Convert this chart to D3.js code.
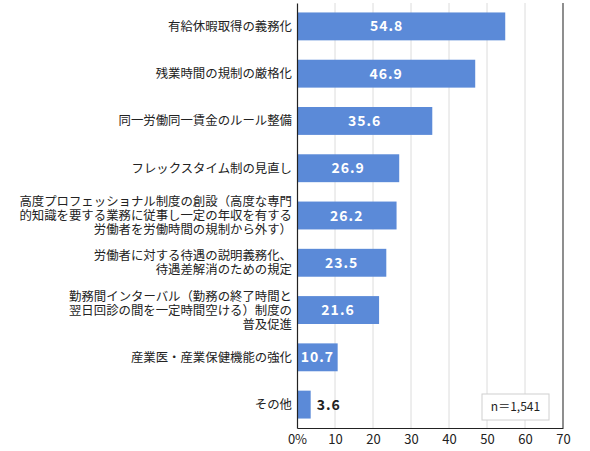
<!DOCTYPE html>
<html>
<head>
<meta charset="utf-8">
<script src="https://cdnjs.cloudflare.com/ajax/libs/d3/7.8.5/d3.min.js"></script>
<style>
  body { margin: 0; background: #fff; }
  svg { display: block; }
</style>
</head>
<body>
<svg width="590" height="451"></svg>
<script>

// data
var categories = [
  ["有給休暇取得の義務化"],
  ["残業時間の規制の厳格化"],
  ["同一労働同一賃金のルール整備"],
  ["フレックスタイム制の見直し"],
  ["高度プロフェッショナル制度の創設（高度な専門", "的知識を要する業務に従事し一定の年収を有する", "労働者を労働時間の規制から外す）"],
  ["労働者に対する待遇の説明義務化、", "待遇差解消のための規定"],
  ["勤務間インターバル（勤務の終了時間と", "翌日回診の間を一定時間空ける）制度の", "普及促進"],
  ["産業医・産業保健機能の強化"],
  ["その他"]
];
var values = [54.8, 46.9, 35.6, 26.9, 26.2, 23.5, 21.6, 10.7, 3.6];
var xTicks = [0, 10, 20, 30, 40, 50, 60, 70];
var note = "n＝1,541";

var svg = d3.select("svg"),
    margin = {top: 3, right: 27, bottom: 23, left: 297},
    width = +svg.attr("width") - margin.left - margin.right,
    height = +svg.attr("height") - margin.top - margin.bottom;

var font = "'Noto Sans CJK JP', 'Noto Sans', sans-serif";

var xScale = d3.scaleLinear().domain([0, 70]).range([0, width]);
var yScale = d3.scaleBand().domain(d3.range(values.length))
    .range([0, height]).paddingInner(0.41).paddingOuter(0.2);

var g = svg.append("g")
    .attr("transform", "translate(" + margin.left + "," + margin.top + ")");

// grid
g.append("g").selectAll("line")
  .data(xTicks.slice(1, -1))
  .enter().append("line")
  .attr("x1", function(d) { return xScale(d); })
  .attr("x2", function(d) { return xScale(d); })
  .attr("y1", 0).attr("y2", height)
  .style("stroke", "#dcdcdc").style("stroke-width", 1);

// right border
g.append("line")
  .attr("x1", xScale(70)).attr("x2", xScale(70))
  .attr("y1", 0).attr("y2", height)
  .style("stroke", "#444").style("stroke-width", 1.2);

// bars
g.append("g").selectAll("rect")
  .data(values)
  .enter().append("rect")
  .attr("x", 0)
  .attr("y", function(d, i) { return yScale(i); })
  .attr("width", function(d) { return xScale(d); })
  .attr("height", yScale.bandwidth())
  .style("fill", "#5b8ad8");

// value labels
g.append("g").selectAll("text")
  .data(values)
  .enter().append("text")
  .attr("x", function(d) {
    if (d < 5) return xScale(d) + 6;
    return xScale(Math.min(d / 2, 23.6));
  })
  .attr("y", function(d, i) { return yScale(i) + yScale.bandwidth() / 2; })
  .attr("dy", "0.36em")
  .attr("text-anchor", function(d) { return d < 5 ? "start" : "middle"; })
  .style("font-family", font)
  .style("font-weight", "bold")
  .style("font-size", "14px")
  .style("letter-spacing", "1px")
  .style("fill", function(d) { return d < 5 ? "#222" : "#fff"; })
  .text(function(d) { return d.toFixed(1); });

// category labels
var lineH = 14;
var cat = g.append("g").selectAll("text")
  .data(categories)
  .enter().append("text")
  .attr("text-anchor", "end")
  .attr("transform", function(d, i) {
    var cy = yScale(i) + yScale.bandwidth() / 2 - (d.length - 1) * lineH / 2;
    return "translate(-5," + cy + ")";
  })
  .style("font-family", font)
  .style("font-size", "12.4px")
  .style("fill", "#222");

cat.selectAll("tspan")
  .data(function(d) { return d; })
  .enter().append("tspan")
  .attr("x", 0)
  .attr("y", function(d, j) { return j * lineH; })
  .attr("dy", "0.36em")
  .text(function(d) { return d; });

// axes
var xAxis = g.append("g")
  .attr("transform", "translate(0," + height + ")")
  .call(d3.axisBottom(xScale).tickValues(xTicks).tickSize(0).tickPadding(7)
    .tickFormat(function(d) { return d === 0 ? "0%" : d; }));
xAxis.select(".domain").style("stroke", "#222").style("stroke-width", 1.2);
xAxis.selectAll("text")
  .style("font-family", font)
  .style("font-size", "13px")
  .style("fill", "#222");

var yAxis = g.append("g")
  .call(d3.axisLeft(yScale).tickSize(0).tickFormat(""));
yAxis.select(".domain").style("stroke", "#222").style("stroke-width", 1.2);

// n box
var box = g.append("g")
  .attr("transform", "translate(" + (xScale(70) - 81) + "," + (height - 34) + ")");
box.append("rect")
  .attr("width", 67).attr("height", 26)
  .style("fill", "#fff").style("stroke", "#d0d0d0");
box.append("text")
  .attr("x", 33.5).attr("y", 13).attr("dy", "0.36em")
  .attr("text-anchor", "middle")
  .style("font-family", font)
  .style("font-size", "12px")
  .style("fill", "#222")
  .text(note);

</script>
</body>
</html>
